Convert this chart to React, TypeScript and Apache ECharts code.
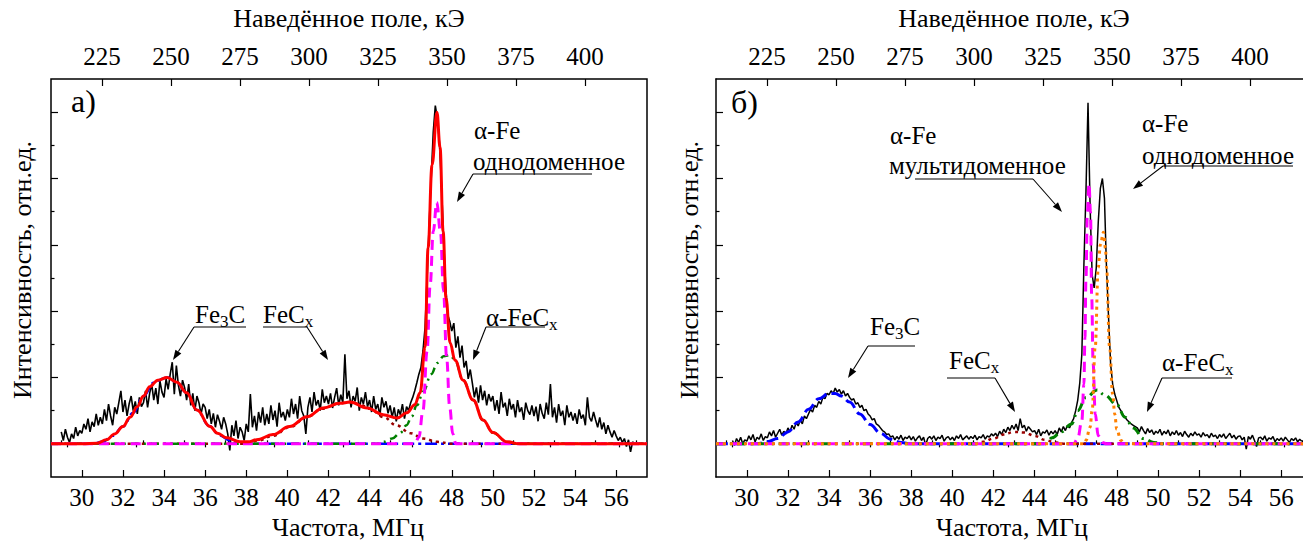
import React, { useEffect, useRef } from "react";
import * as echarts from "echarts";

const FONT = "Liberation Serif";

// ---------- axes ----------
const freqMin = 28.5;
const freqMaxA = 57.5;
const freqMaxB = 57.06;
const freqMajorTicks = [30, 32, 34, 36, 38, 40, 42, 44, 46, 48, 50, 52, 54, 56];
const freqMinorTicks = [29, 31, 33, 35, 37, 39, 41, 43, 45, 47, 49, 51, 53, 55, 57];
const fieldMin = 206.5;
const fieldMaxA = 422.5;
const fieldMaxB = 419.24;
const fieldMajorTicks = [225, 250, 275, 300, 325, 350, 375, 400];
const fieldMinorTicks = [212.5, 237.5, 262.5, 287.5, 312.5, 337.5, 362.5, 387.5, 412.5];
const intMin = -0.5;
const intMax = 5.5;
const intMajorTicks = [0, 1, 2, 3, 4, 5];
const intMinorTicks = [0.5, 1.5, 2.5, 3.5, 4.5];

// ---------- panel а) experimental spectrum (29.0 ... 57.0 MHz, step 0.1) ----------
const aExpStart = 29.0;
const aExpStep = 0.1;
const aExp = [
  0.18, 0.05, 0.22, 0.10, 0.02, 0.15, 0.08, 0.25, 0.12, 0.20,
  0.16, 0.30, 0.22, 0.38, 0.18, 0.33, 0.26, 0.45, 0.28, 0.40,
  0.30, 0.52, 0.35, 0.60, 0.42, 0.28, 0.55, 0.45, 0.62, 0.80,
  0.48, 0.66, 0.42, 0.60, 0.72, 0.50, 0.64, 0.45, 0.70, 0.56,
  0.62, 0.80, 0.55, 0.76, 0.90, 0.66, 0.84, 0.60, 0.95, 0.78,
  0.70, 0.98, 0.82, 1.05, 1.23, 0.75, 1.18, 0.88, 0.72, 0.96,
  0.85, 0.66, 0.90, 0.58, 0.76, 0.50, 0.72, 0.62, 0.45, 0.60,
  0.55, 0.38, 0.52, 0.30, 0.46, 0.25, 0.44, 0.34, 0.22, 0.40,
  0.30, 0.15, -0.10, 0.28, 0.12, 0.35, 0.08, 0.25, 0.18, 0.05,
  0.30, 0.18, 0.75, 0.25, 0.42, 0.20, 0.48, 0.32, 0.55, 0.28,
  0.45, 0.30, 0.58, 0.36, 0.50, 0.26, 0.62, 0.40, 0.48, 0.35,
  0.52, 0.40, 0.68, 0.45, 0.60, 0.38, 0.72, 0.50, 0.42, 0.15,
  0.55, 0.70, 0.48, 0.78, 0.58, 0.66, 0.50, 0.82, 0.62, 0.72,
  0.60, 0.76, 0.54, 0.70, 0.84, 0.58, 0.74, 0.62, 1.35, 0.68,
  0.80, 0.55, 0.72, 0.64, 0.85, 0.50, 0.70, 0.60, 0.78, 0.56,
  0.66, 0.48, 0.72, 0.52, 0.60, 0.42, 0.70, 0.55, 0.64, 0.46,
  0.58, 0.40, 0.55, 0.34, 0.52, 0.44, 0.60, 0.38, 0.56, 0.50,
  0.62, 0.70, 0.80, 0.92, 1.05, 1.15, 1.40, 1.75, 2.50, 3.30,
  4.00, 4.70, 5.10, 4.90, 4.55, 3.90, 3.10, 2.40, 1.95, 1.85,
  1.70, 1.82, 1.45, 1.62, 1.30, 1.48, 1.15, 1.25, 0.98, 1.12,
  0.92, 0.70, 0.85, 0.62, 0.88, 0.66, 0.80, 0.58, 0.75, 0.64,
  0.72, 0.50, 0.66, 0.45, 0.78, 0.55, 0.62, 0.42, 0.68, 0.52,
  0.60, 0.40, 0.66, 0.48, 0.55, 0.36, 0.62, 0.50, 0.44, 0.58,
  0.42, 0.56, 0.34, 0.60, 0.46, 0.38, 0.62, 0.44, 0.90, 0.40,
  0.55, 0.32, 0.60, 0.42, 0.50, 0.28, 0.58, 0.40, 0.48, 0.35,
  0.46, 0.30, 0.52, 0.38, 0.44, 0.28, 0.70, 0.40, 0.34, 0.48,
  0.36, 0.25, 0.40, 0.22, 0.32, 0.15, 0.28, 0.18, 0.10, 0.20,
  0.12, 0.05, 0.10, 0.02, 0.08, -0.04, 0.06, -0.12, 0.03, 0.00,
  0.02,
];

// panel а) fitted components
const aFitFreq = [28.5, 30.0, 30.74, 31.2, 31.6, 32.0, 32.35, 32.7, 33.0, 33.3, 33.7, 34.15, 34.63, 35.1, 35.6, 36.24, 36.6, 37.06, 37.7, 38.1, 38.5, 39.3, 40.1, 40.96, 41.74, 42.56, 43.05, 43.88, 44.66, 45.34, 45.82, 46.2, 46.46, 46.7, 46.85, 47.04, 47.28, 47.43, 47.58, 47.72, 47.92, 48.16, 48.55, 49.04, 49.52, 50.0, 50.69, 51.3, 57.5];
const aFitVal = [0, 0, 0.01, 0.06, 0.15, 0.26, 0.4, 0.56, 0.72, 0.86, 0.96, 1.0, 0.93, 0.77, 0.51, 0.26, 0.16, 0.09, 0.03, 0.03, 0.06, 0.14, 0.26, 0.41, 0.54, 0.61, 0.63, 0.54, 0.44, 0.39, 0.47, 0.59, 0.77, 1.46, 2.96, 4.2, 5.0, 4.47, 3.2, 2.2, 1.52, 1.26, 0.96, 0.66, 0.36, 0.17, 0.03, 0, 0];
const aFe3CFreq = [28.5, 30.5, 31.0, 31.5, 32.0, 32.5, 33.0, 33.5, 34.0, 34.2, 34.6, 35.1, 35.6, 36.2, 36.7, 37.2, 37.7, 38.2, 57.5];
const aFe3CVal = [0, 0, 0.03, 0.12, 0.26, 0.47, 0.72, 0.92, 0.99, 1.0, 0.93, 0.77, 0.51, 0.27, 0.13, 0.05, 0.01, 0, 0];
const aFeCxFreq = [28.5, 37.8, 38.5, 39.3, 40.1, 41.0, 41.7, 42.5, 43.0, 43.5, 44.0, 44.7, 45.3, 46.0, 46.6, 47.3, 48.0, 57.5];
const aFeCxVal = [0, 0, 0.04, 0.12, 0.25, 0.41, 0.53, 0.61, 0.63, 0.6, 0.53, 0.4, 0.28, 0.16, 0.08, 0.03, 0, 0];
const aAlphaFeCxFreq = [28.5, 44.3, 44.66, 45.1, 45.48, 45.8, 46.05, 46.3, 46.62, 47.0, 47.3, 47.6, 47.92, 48.16, 48.55, 49.04, 49.52, 50.0, 50.69, 51.2, 57.5];
const aAlphaFeCxVal = [0, 0, 0.03, 0.08, 0.16, 0.28, 0.41, 0.58, 0.79, 1.05, 1.22, 1.32, 1.34, 1.26, 0.96, 0.66, 0.36, 0.17, 0.03, 0, 0];
const aAlphaFeFreq = [28.5, 46.2, 46.4, 46.6, 46.8, 46.95, 47.1, 47.27, 47.45, 47.6, 47.75, 47.9, 48.05, 48.2, 57.5];
const aAlphaFeVal = [0, 0, 0.1, 0.5, 1.4, 2.4, 3.2, 3.64, 3.2, 2.3, 1.3, 0.55, 0.15, 0, 0];

// ---------- panel б) experimental spectrum (29.3 ... 57.0 MHz, step 0.1) ----------
const bExpStart = 29.3;
const bExpStep = 0.1;
const bExp = [
  0.05, -0.02, 0.08, 0.02, 0.10, 0.00, 0.06,
  0.04, 0.12, 0.06, 0.14, 0.03, 0.10, 0.07, 0.15, 0.05, 0.11,
  0.09, 0.18, 0.12, 0.20, 0.10, 0.16, 0.22, 0.13, 0.19, 0.15,
  0.24, 0.18, 0.28, 0.22, 0.32, 0.27, 0.36, 0.30, 0.42, 0.38,
  0.45, 0.52, 0.48, 0.58, 0.55, 0.64, 0.60, 0.70, 0.68, 0.76,
  0.74, 0.80, 0.76, 0.84, 0.78, 0.82, 0.75, 0.80, 0.72, 0.76,
  0.70, 0.66, 0.68, 0.60, 0.62, 0.55, 0.58, 0.50, 0.52, 0.45,
  0.42, 0.36, 0.38, 0.30, 0.28, 0.24, 0.20, 0.18, 0.14, 0.15,
  0.10, 0.12, 0.06, 0.11, 0.07, 0.13, 0.05, 0.10, 0.08, 0.12,
  0.06, 0.11, 0.04, 0.09, 0.12, 0.05, 0.10, -0.02, 0.08, 0.11,
  0.07, 0.12, 0.05, 0.10, 0.08, 0.13, 0.04, 0.09, 0.11, 0.06,
  0.10, 0.05, 0.12, 0.08, 0.14, 0.06, 0.09, 0.12, 0.07, 0.11,
  0.08, 0.13, 0.06, 0.11, 0.09, 0.14, 0.07, 0.12, 0.10, 0.15,
  0.12, 0.16, 0.11, 0.19, 0.14, 0.22, 0.17, 0.25, 0.20, 0.28,
  0.22, 0.30, 0.20, 0.38, 0.24, 0.28, 0.19, 0.26, 0.22, 0.18,
  0.20, 0.14, 0.22, 0.12, 0.18, 0.16, 0.21, 0.13, 0.19, 0.15,
  0.20, 0.14, 0.24, 0.18, 0.26, 0.20, 0.28, 0.24, 0.32, 0.38,
  0.50, 0.66, 0.92, 1.35, 2.70, 3.80, 5.14, 3.60, 2.55, 2.35,
  2.65, 3.35, 3.85, 4.00, 3.70, 2.65, 1.90, 1.20, 0.90, 0.75,
  0.65, 0.55, 0.50, 0.44, 0.40, 0.36, 0.33, 0.30, 0.28, 0.26,
  0.24, 0.18, 0.26, 0.20, 0.15, 0.23, 0.17, 0.21, 0.14, 0.19,
  0.16, 0.22, 0.13, 0.19, 0.15, 0.21, 0.12, 0.18, 0.14, 0.20,
  0.13, 0.17, 0.11, 0.19, 0.14, 0.10, 0.16, 0.12, 0.18, 0.13,
  0.15, 0.10, 0.17, 0.12, 0.14, 0.09, 0.16, 0.11, 0.13, 0.08,
  0.14, 0.10, 0.15, 0.08, 0.12, 0.16, 0.09, 0.13, 0.07, 0.11,
  0.12, 0.06, 0.10, -0.08, 0.11, 0.07, 0.13, 0.05, -0.04, 0.09,
  0.10, 0.06, 0.12, 0.04, 0.09, 0.07, 0.11, 0.03, 0.08, 0.05,
  0.09, 0.04, 0.10, 0.06, 0.02, 0.08, 0.05, 0.09, 0.03, 0.07,
  0.04,
];

// panel б) fitted components
const bFe3CFreq = [28.5, 30.5, 31.0, 31.5, 32.0, 32.5, 33.0, 33.5, 34.0, 34.3, 34.6, 35.0, 35.5, 36.0, 36.5, 37.0, 37.5, 38.0, 57.06];
const bFe3CVal = [0, 0, 0.03, 0.08, 0.18, 0.33, 0.52, 0.68, 0.76, 0.76, 0.72, 0.63, 0.45, 0.29, 0.16, 0.07, 0.02, 0, 0];
const bFeCxFreq = [28.5, 41.0, 41.5, 42.0, 42.5, 43.0, 43.5, 44.0, 44.5, 45.0, 45.5, 57.06];
const bFeCxVal = [0, 0, 0.03, 0.08, 0.14, 0.18, 0.17, 0.12, 0.06, 0.02, 0, 0];
const bMultiFreq = [28.5, 45.9, 46.1, 46.3, 46.4, 46.45, 46.5, 46.57, 46.65, 46.72, 46.78, 46.85, 46.95, 47.1, 47.3, 47.5, 57.06];
const bMultiVal = [0, 0, 0.08, 0.35, 0.9, 1.6, 2.5, 3.5, 3.92, 3.5, 2.2, 1.2, 0.45, 0.12, 0.02, 0, 0];
const bSingleFreq = [28.5, 46.4, 46.5, 46.7, 46.8, 46.95, 47.1, 47.2, 47.35, 47.45, 47.5, 47.65, 47.8, 47.9, 48.0, 48.2, 48.4, 57.06];
const bSingleVal = [0, 0, 0.05, 0.25, 0.5, 1.46, 2.66, 3.0, 3.19, 2.95, 2.66, 1.46, 0.75, 0.45, 0.22, 0.05, 0, 0];
const bAlphaFeCxFreq = [28.5, 44.5, 44.85, 45.3, 45.8, 46.1, 46.5, 47.05, 47.4, 48.0, 48.4, 48.8, 49.3, 49.8, 50.3, 57.06];
const bAlphaFeCxVal = [0, 0, 0.09, 0.18, 0.3, 0.5, 0.7, 0.81, 0.74, 0.59, 0.4, 0.24, 0.08, 0.02, 0, 0];

// ---------- helpers ----------
const pairs = (xs: number[], ys: number[]) => xs.map((x, i) => [x, ys[i]]);
const sampled = (start: number, step: number, ys: number[]) =>
  ys.map((y, i) => [Math.round((start + i * step) * 100) / 100, y]);

const PANELS = [
  { left: 51, width: 596, freqMax: freqMaxA, fieldMax: fieldMaxA, border: true },
  { left: 716, width: 587, freqMax: freqMaxB, fieldMax: fieldMaxB, border: false },
];
const GRID_TOP = 79;
const GRID_H = 398;

function buildAxes() {
  const grid: any[] = [];
  const xAxis: any[] = [];
  const yAxis: any[] = [];
  const tickStyle = { color: "#000", width: 1.2 };
  const lbl = { color: "#000", fontFamily: FONT, fontSize: 25 };
  PANELS.forEach((p, g) => {
    grid.push({
      left: p.left, top: GRID_TOP, width: p.width, height: GRID_H,
      show: p.border, borderColor: "#000", borderWidth: 1.5,
    });
    const line = { show: !p.border, onZero: false, lineStyle: { color: "#000", width: 1.5 } };
    const base = { type: "value", gridIndex: g, splitLine: { show: false } };
    xAxis.push(
      { ...base, position: "bottom", min: freqMin, max: p.freqMax, axisLine: line,
        axisTick: { show: true, inside: true, length: 7, customValues: freqMajorTicks, lineStyle: tickStyle },
        axisLabel: { ...lbl, margin: 8, customValues: freqMajorTicks } },
      { ...base, position: "bottom", min: freqMin, max: p.freqMax, axisLine: { show: false },
        axisTick: { show: true, inside: true, length: 3.5, customValues: freqMinorTicks, lineStyle: tickStyle },
        axisLabel: { show: false } },
      { ...base, position: "top", min: fieldMin, max: p.fieldMax, axisLine: line,
        axisTick: { show: true, inside: true, length: 7, customValues: fieldMajorTicks, lineStyle: tickStyle },
        axisLabel: { ...lbl, margin: 10, customValues: fieldMajorTicks } },
      { ...base, position: "top", min: fieldMin, max: p.fieldMax, axisLine: { show: false },
        axisTick: { show: true, inside: true, length: 3.5, customValues: fieldMinorTicks, lineStyle: tickStyle },
        axisLabel: { show: false } }
    );
    yAxis.push(
      { ...base, position: "left", min: intMin, max: intMax, axisLine: line,
        axisTick: { show: true, inside: true, length: 7, customValues: intMajorTicks, lineStyle: tickStyle },
        axisLabel: { show: false } },
      { ...base, position: "left", min: intMin, max: intMax, axisLine: { show: false },
        axisTick: { show: true, inside: true, length: 3.5, customValues: intMinorTicks, lineStyle: tickStyle },
        axisLabel: { show: false } }
    );
  });
  return { grid, xAxis, yAxis };
}

function line(g: number, data: number[][], color: string, width: number, type: any, smooth: boolean | number, z = 2) {
  return {
    type: "line", xAxisIndex: g * 4, yAxisIndex: g * 2, data,
    showSymbol: false, symbol: "none", silent: true, smooth, smoothMonotone: "x", z,
    lineStyle: { color, width, type },
  };
}

// ---------- annotation graphics ----------
const rich = {
  n: { fontSize: 25, fontFamily: FONT, lineHeight: 32, fill: "#000" },
  s: { fontSize: 17, fontFamily: FONT, lineHeight: 14, verticalAlign: "bottom", fill: "#000" },
};
function txt(text: string, x: number, y: number, size = 25, withRich = false) {
  const style: any = { text, fill: "#000", fontSize: size, fontFamily: FONT, align: "left", verticalAlign: "middle" };
  if (withRich) style.rich = rich;
  return { type: "text", x, y, style };
}
function centerTxt(text: string, x: number, y: number, size: number, rotation = 0) {
  return {
    type: "text", x, y, rotation,
    style: { text, fill: "#000", fontSize: size, fontFamily: FONT, align: "center", verticalAlign: "middle" },
  };
}
function seg(x1: number, y1: number, x2: number, y2: number) {
  return { type: "line", silent: true, shape: { x1, y1, x2, y2 }, style: { stroke: "#000", lineWidth: 1.1 } };
}
function arrow(x1: number, y1: number, x2: number, y2: number) {
  const dx = x2 - x1, dy = y2 - y1, L = Math.hypot(dx, dy);
  const ux = dx / L, uy = dy / L, len = 10, w = 3.5;
  const bx = x2 - ux * len, by = y2 - uy * len;
  return [
    seg(x1, y1, bx, by),
    { type: "polygon", silent: true, shape: { points: [[x2, y2], [bx - uy * w, by + ux * w], [bx + uy * w, by - ux * w]] }, style: { fill: "#000" } },
  ];
}

function buildGraphics() {
  const els: any[] = [];
  [349, 1014].forEach((cx) => els.push(centerTxt("Наведённое поле, кЭ", cx, 18, 26)));
  [348, 1012].forEach((cx) => els.push(centerTxt("Частота, МГц", cx, 527, 26)));
  [22, 689].forEach((cx) => els.push(centerTxt("Интенсивность, отн.ед.", cx, 270, 26, Math.PI / 2)));
  els.push(txt("а)", 71, 101, 32));
  els.push(txt("б)", 731, 102, 32));
  // panel а
  els.push(txt("{n|Fe}{s|3}{n|C}", 195, 314, 25, true));
  els.push(seg(194, 327, 246, 327), ...arrow(194, 327, 173, 360));
  els.push(txt("{n|FeC}{s|x}", 263, 314, 25, true));
  els.push(seg(263, 327, 307, 327), ...arrow(307, 327, 328, 360));
  els.push(txt("α-Fe", 474, 130));
  els.push(txt("однодоменное", 473, 161));
  els.push(seg(473, 174, 592, 174), ...arrow(473, 174, 457, 202));
  els.push(txt("{n|α-FeC}{s|x}", 486, 317, 25, true));
  els.push(seg(486, 327, 545, 327), ...arrow(486, 327, 473, 360));
  // panel б
  els.push(txt("{n|Fe}{s|3}{n|C}", 870, 326, 25, true));
  els.push(seg(868, 346, 915, 346), ...arrow(868, 346, 848, 378));
  els.push(txt("{n|FeC}{s|x}", 949, 360, 25, true));
  els.push(seg(947, 378, 995, 378), ...arrow(995, 378, 1015, 412));
  els.push(txt("α-Fe", 890, 135));
  els.push(txt("мультидоменное", 889, 165));
  els.push(seg(915, 179, 1033, 179), ...arrow(1033, 179, 1062, 212));
  els.push(txt("α-Fe", 1142, 123));
  els.push(txt("однодоменное", 1142, 155));
  els.push(seg(1163, 166, 1293, 166), ...arrow(1163, 166, 1133, 189));
  els.push(txt("{n|α-FeC}{s|x}", 1162, 362, 25, true));
  els.push(seg(1162, 378, 1232, 378), ...arrow(1162, 378, 1147, 412));
  return els;
}

function buildOption() {
  const { grid, xAxis, yAxis } = buildAxes();
  const series = [
    line(0, sampled(aExpStart, aExpStep, aExp), "#000", 1.6, "solid", false, 2),
    line(0, pairs(aFe3CFreq, aFe3CVal), "#0000ff", 2.5, [12, 4, 3, 4], 0.4, 3),
    line(0, pairs(aFeCxFreq, aFeCxVal), "#990000", 2.5, [3, 4], 0.4, 3),
    line(0, pairs(aAlphaFeCxFreq, aAlphaFeCxVal), "#008000", 2.5, [8, 5, 2, 5], 0.4, 3),
    line(0, pairs(aAlphaFeFreq, aAlphaFeVal), "#ff00ff", 3, [10, 6], 0.4, 3),
    line(0, pairs(aFitFreq, aFitVal), "#ff0000", 3, "solid", 0.4, 4),
    line(1, sampled(bExpStart, bExpStep, bExp), "#000", 1.5, "solid", false, 2),
    line(1, pairs(bFe3CFreq, bFe3CVal), "#0000ff", 3, [12, 5], 0.4, 3),
    line(1, pairs(bFeCxFreq, bFeCxVal), "#990000", 2.5, [3, 4], 0.4, 3),
    line(1, pairs(bAlphaFeCxFreq, bAlphaFeCxVal), "#008000", 3, [9, 5, 2, 5], 0.4, 3),
    line(1, pairs(bMultiFreq, bMultiVal), "#ff00ff", 3, [10, 6], 0.4, 3),
    line(1, pairs(bSingleFreq, bSingleVal), "#ff8000", 3, [3, 4], 0.4, 3),
  ];
  return {
    animation: false,
    grid, xAxis, yAxis, series,
    graphic: { elements: buildGraphics() },
  };
}

export default function App() {
  const ref = useRef<HTMLDivElement>(null);
  useEffect(() => {
    if (!ref.current) return;
    const chart = echarts.init(ref.current, null, { renderer: "svg" });
    chart.setOption(buildOption() as any);
    return () => chart.dispose();
  }, []);
  return <div ref={ref} style={{ position: "absolute", left: 0, top: 0, width: 1303, height: 549 }} />;
}
